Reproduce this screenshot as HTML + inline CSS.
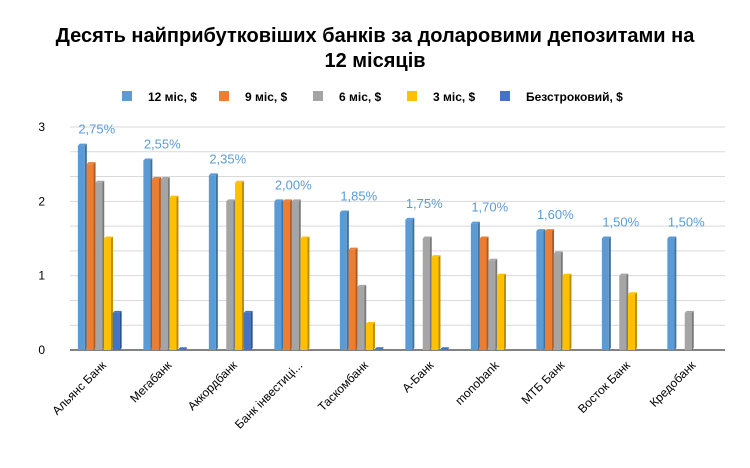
<!DOCTYPE html>
<html><head><meta charset="utf-8"><style>
body{margin:0;background:#fff;font-family:"Liberation Sans",sans-serif}
svg text{font-family:"Liberation Sans",sans-serif}
</style></head><body>
<svg width="750" height="463" xmlns="http://www.w3.org/2000/svg">
<rect width="750" height="463" fill="#fff"/>
<text x="375" y="42" text-anchor="middle" font-size="20" font-weight="bold" fill="#000">Десять найприбутковіших банків за доларовими депозитами на</text>
<text x="375" y="67" text-anchor="middle" font-size="20" font-weight="bold" fill="#000">12 місяців</text>
<g id="legend"></g>
<g id="grid"></g>
<g id="bars"></g>
<g id="labels"></g>
<g id="axes"></g>
</svg>
<script>
const categories=["Альянс Банк","Мегабанк","Аккордбанк","Банк інвестиці...","Таскомбанк","А-Банк","monobank","МТБ Банк","Восток Банк","Кредобанк"];
const seriesNames=["12 міс, $","9 міс, $","6 міс, $","3 міс, $","Безстроковий, $"];
const s12=[2.75,2.55,2.35,2.0,1.85,1.75,1.7,1.6,1.5,1.5];
const s9=[2.5,2.3,0,2.0,1.35,0,1.5,1.6,0,0];
const s6=[2.25,2.3,2.0,2.0,0.85,1.5,1.2,1.3,1.0,0.5];
const s3=[1.5,2.05,2.25,1.5,0.35,1.25,1.0,1.0,0.75,0];
const sInf=[0.5,0.01,0.5,0,0.01,0.01,0,0,0,0];
const pctLabels=["2,75%","2,55%","2,35%","2,00%","1,85%","1,75%","1,70%","1,60%","1,50%","1,50%"];
const yTicks=[0,1,2,3];
const NS="http://www.w3.org/2000/svg";
const colors=["#5b9bd5","#ed7d31","#a5a5a5","#ffc000","#4472c4"];
const dark=["#41719c","#ae5a21","#787878","#bc8c00","#2f528f"];
const series=[s12,s9,s6,s3,sInf];
const x0=70,x1=725,y0=350,yTop=127,yMax=3;
const band=(x1-x0)/categories.length;
const y=v=>y0-(v/yMax)*(y0-yTop);
const cx=i=>x0+band*i+band/2;
function el(t,a,p){const e=document.createElementNS(NS,t);for(const k in a)e.setAttribute(k,a[k]);document.getElementById(p).appendChild(e);return e;}
for(let g=0;g<=9;g++){const v=g/3;const l=el('line',{x1:x0,x2:x1,y1:y(v),y2:y(v),stroke:g==0?'#595959':'#d9d9d9','stroke-width':g==0?1.5:1},'grid');

}
yTicks.forEach(v=>{const t=el('text',{x:45,y:y(v)+4,'font-size':12,fill:'#000','text-anchor':'end'},'axes');t.textContent=v;

});
const bw=7,step=8.7;
categories.forEach((c,i)=>{
 series.forEach((s,j)=>{const v=s[i];if(v<=0)return;
  const bx=cx(i)-2.5*step+j*step+(step-bw)/2-4;const by=y(v);const h=y0-by;
  const r=el('rect',{x:bx,y:by,width:bw,height:h,fill:colors[j]},'bars');
  
  
  const sd=el('polygon',{points:`${bx+bw},${by} ${bx+bw+2},${by-2} ${bx+bw+2},${y0-2} ${bx+bw},${y0}`,fill:dark[j]},'bars');
  
  
  const tp=el('polygon',{points:`${bx},${by} ${bx+2},${by-2} ${bx+bw+2},${by-2} ${bx+bw},${by}`,fill:colors[j]},'bars');
  
  
 });
 const lt=el('text',{x:cx(i)-6,y:y(s12[i])-12,'font-size':13,fill:'#5b9bd5','text-anchor':'middle'},'labels');
 lt.textContent=pctLabels[i];
 
 
 const xt=el('text',{x:0,y:0,'font-size':12,fill:'#000','text-anchor':'end',transform:`translate(${cx(i)+4},${y0+16}) rotate(-45)`},'axes');
 xt.textContent=c;
 
 
});
const lx=[122,219,313,407,500];
seriesNames.forEach((n,j)=>{
 const r=el('rect',{x:lx[j],y:91,width:10,height:10,fill:colors[j]},'legend');
 
 
 const t=el('text',{x:lx[j]+26,y:101,'font-size':12,'font-weight':'bold',fill:'#000'},'legend');
 t.textContent=n;
 
 
});
</script>
</body></html>
